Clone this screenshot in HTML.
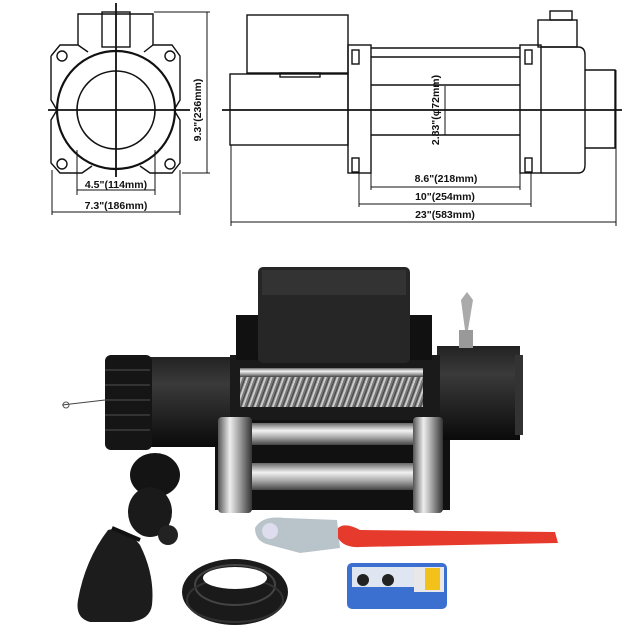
<!DOCTYPE html>
<html><head><meta charset="utf-8"><style>
html,body{margin:0;padding:0;background:#fff;width:640px;height:640px;overflow:hidden}
svg{display:block}
text{font-family:"Liberation Sans",sans-serif;font-size:10.5px;fill:#111;font-weight:bold}
</style></head><body>
<svg width="640" height="640" viewBox="0 0 640 640">
<defs>
<linearGradient id="chrome" x1="0" x2="1" y1="0" y2="0">
<stop offset="0" stop-color="#555"/><stop offset=".35" stop-color="#eee"/><stop offset=".6" stop-color="#aaa"/><stop offset="1" stop-color="#333"/></linearGradient>
<linearGradient id="chromeH" x1="0" x2="0" y1="0" y2="1">
<stop offset="0" stop-color="#666"/><stop offset=".35" stop-color="#f2f2f2"/><stop offset=".65" stop-color="#aaa"/><stop offset="1" stop-color="#444"/></linearGradient>
<linearGradient id="cyl" x1="0" x2="0" y1="0" y2="1">
<stop offset="0" stop-color="#222"/><stop offset=".3" stop-color="#3a3a3a"/><stop offset="1" stop-color="#0a0a0a"/></linearGradient>
<pattern id="rope" width="6" height="30" patternUnits="userSpaceOnUse" patternTransform="skewX(-20)">
<rect width="6" height="30" fill="#777"/><rect width="2" height="30" fill="#ccc"/><rect x="4" width="1" height="30" fill="#444"/></pattern>
</defs>
<g fill="none" stroke="#111" stroke-width="1.4">
<path d="M78 45V14H153V45"/>
<rect x="102" y="12" width="28" height="35"/>
<path d="M51 56L60 45H78L88 52M144 52L153 45H172L180 56V100L174 110M51 56V100L57 110M57 110L51 120V163L60 173H82L92 166M140 166L150 173H172L180 163V120L174 110"/>
<circle cx="116" cy="110" r="59" stroke-width="2.2"/>
<circle cx="116" cy="110" r="39" stroke-width="1.6"/>
<circle cx="62" cy="56" r="5"/><circle cx="170" cy="56" r="5"/><circle cx="62" cy="164" r="5"/><circle cx="170" cy="164" r="5"/>
<path d="M116 3V177M48 110H190" stroke-width="1.8"/>
<path d="M154 12H210M182 173H210M207 12V173M77 150V195M155 150V195M77 190H155M52 170V215M180 170V215M52 212H180" stroke-width="1"/>
<rect x="247" y="15" width="101" height="58"/>
<rect x="280" y="73" width="40" height="4"/>
<rect x="230" y="74" width="118" height="71"/>
<rect x="348" y="45" width="23" height="128"/>
<path d="M371 48H520M371 57H520M371 85H520M371 135H520"/>
<rect x="520" y="45" width="21" height="128"/>
<path d="M541 47H578Q585 47 585 55V165Q585 173 578 173H541"/>
<rect x="538" y="20" width="39" height="27"/><rect x="550" y="11" width="22" height="9"/>
<path d="M585 70H615V148H585"/>
<rect x="352" y="50" width="7" height="14"/><rect x="525" y="50" width="7" height="14"/>
<rect x="352" y="158" width="7" height="14"/><rect x="525" y="158" width="7" height="14"/>
<path d="M222 110H622" stroke-width="1.8"/>
<path d="M445 86V135" stroke-width="1"/>
<path d="M371 173V190M520 173V190M359 173V207M531 173V207M231 145V226M616 70V226M371 187H520M359 204H531M231 222H616" stroke-width="1"/>
</g>
<text x="116" y="188" text-anchor="middle">4.5"(114mm)</text>
<text x="116" y="209" text-anchor="middle">7.3"(186mm)</text>
<text transform="translate(201 110) rotate(-90)" text-anchor="middle">9.3"(236mm)</text>
<text transform="translate(439 110) rotate(-90)" text-anchor="middle">2.83"(φ72mm)</text>
<text x="446" y="182" text-anchor="middle">8.6"(218mm)</text>
<text x="445" y="200" text-anchor="middle">10"(254mm)</text>
<text x="445" y="218" text-anchor="middle">23"(583mm)</text>
<rect x="215" y="410" width="235" height="100" fill="#111"/>
<rect x="150" y="357" width="90" height="90" fill="url(#cyl)"/>
<rect x="105" y="355" width="47" height="95" rx="6" fill="#151515"/>
<g stroke="#333" stroke-width="2"><path d="M105 370H150M105 385H150M105 400H150M105 415H150M105 430H150"/></g>
<path d="M62 405L105 400" stroke="#444" stroke-width="1"/><circle cx="66" cy="405" r="3" fill="none" stroke="#555"/>
<rect x="437" y="346" width="83" height="94" fill="url(#cyl)"/>
<rect x="515" y="355" width="8" height="80" fill="#333"/>
<rect x="230" y="355" width="210" height="65" fill="#1a1a1a"/>
<rect x="240" y="377" width="183" height="30" fill="url(#rope)"/>
<rect x="240" y="368" width="183" height="9" fill="url(#chromeH)"/>
<rect x="258" y="267" width="152" height="96" rx="5" fill="#262626"/>
<rect x="262" y="270" width="144" height="25" fill="#333"/>
<rect x="236" y="315" width="22" height="45" fill="#111"/>
<rect x="410" y="315" width="22" height="45" fill="#111"/>
<rect x="459" y="330" width="14" height="18" fill="#999"/>
<path d="M461 300L467 292L473 300L468 330H465Z" fill="#aaa"/>
<rect x="252" y="423" width="161" height="22" fill="url(#chromeH)"/>
<rect x="252" y="463" width="161" height="27" fill="url(#chromeH)"/>
<rect x="218" y="417" width="34" height="96" rx="4" fill="url(#chrome)"/>
<rect x="413" y="417" width="30" height="96" rx="4" fill="url(#chrome)"/>
<ellipse cx="155" cy="475" rx="25" ry="22" fill="#141414"/>
<ellipse cx="150" cy="512" rx="22" ry="25" fill="#1a1a1a"/>
<circle cx="168" cy="535" r="10" fill="#222"/>
<path d="M108 530Q125 525 140 545Q155 575 152 605Q150 620 130 622H90Q75 618 78 600Q85 560 108 530Z" fill="#1c1c1c"/>
<path d="M112 528L140 540" stroke="#111" stroke-width="4"/>
<ellipse cx="235" cy="592" rx="53" ry="33" fill="#1a1a1a"/>
<ellipse cx="235" cy="585" rx="40" ry="20" fill="none" stroke="#444" stroke-width="2"/>
<ellipse cx="235" cy="600" rx="48" ry="22" fill="none" stroke="#333" stroke-width="2"/>
<ellipse cx="235" cy="578" rx="32" ry="11" fill="#fff"/>
<path d="M255 528Q262 515 285 518L337 520L340 548L300 553L270 545Q255 542 255 528Z" fill="#b9c3ca"/>
<circle cx="270" cy="531" r="8" fill="#dde"/>
<path d="M338 528Q345 522 360 530L555 532L558 543L360 547Q344 548 338 538Z" fill="#e53a2c"/>
<rect x="347" y="563" width="100" height="46" rx="5" fill="#3b6fd0"/>
<rect x="352" y="567" width="62" height="20" fill="#dfe6f2"/>
<rect x="414" y="567" width="30" height="25" fill="#e8e8e8"/>
<rect x="425" y="568" width="15" height="22" fill="#f2c21b"/>
<circle cx="363" cy="580" r="6" fill="#222"/><circle cx="388" cy="580" r="6" fill="#222"/>
</svg>
</body></html>
